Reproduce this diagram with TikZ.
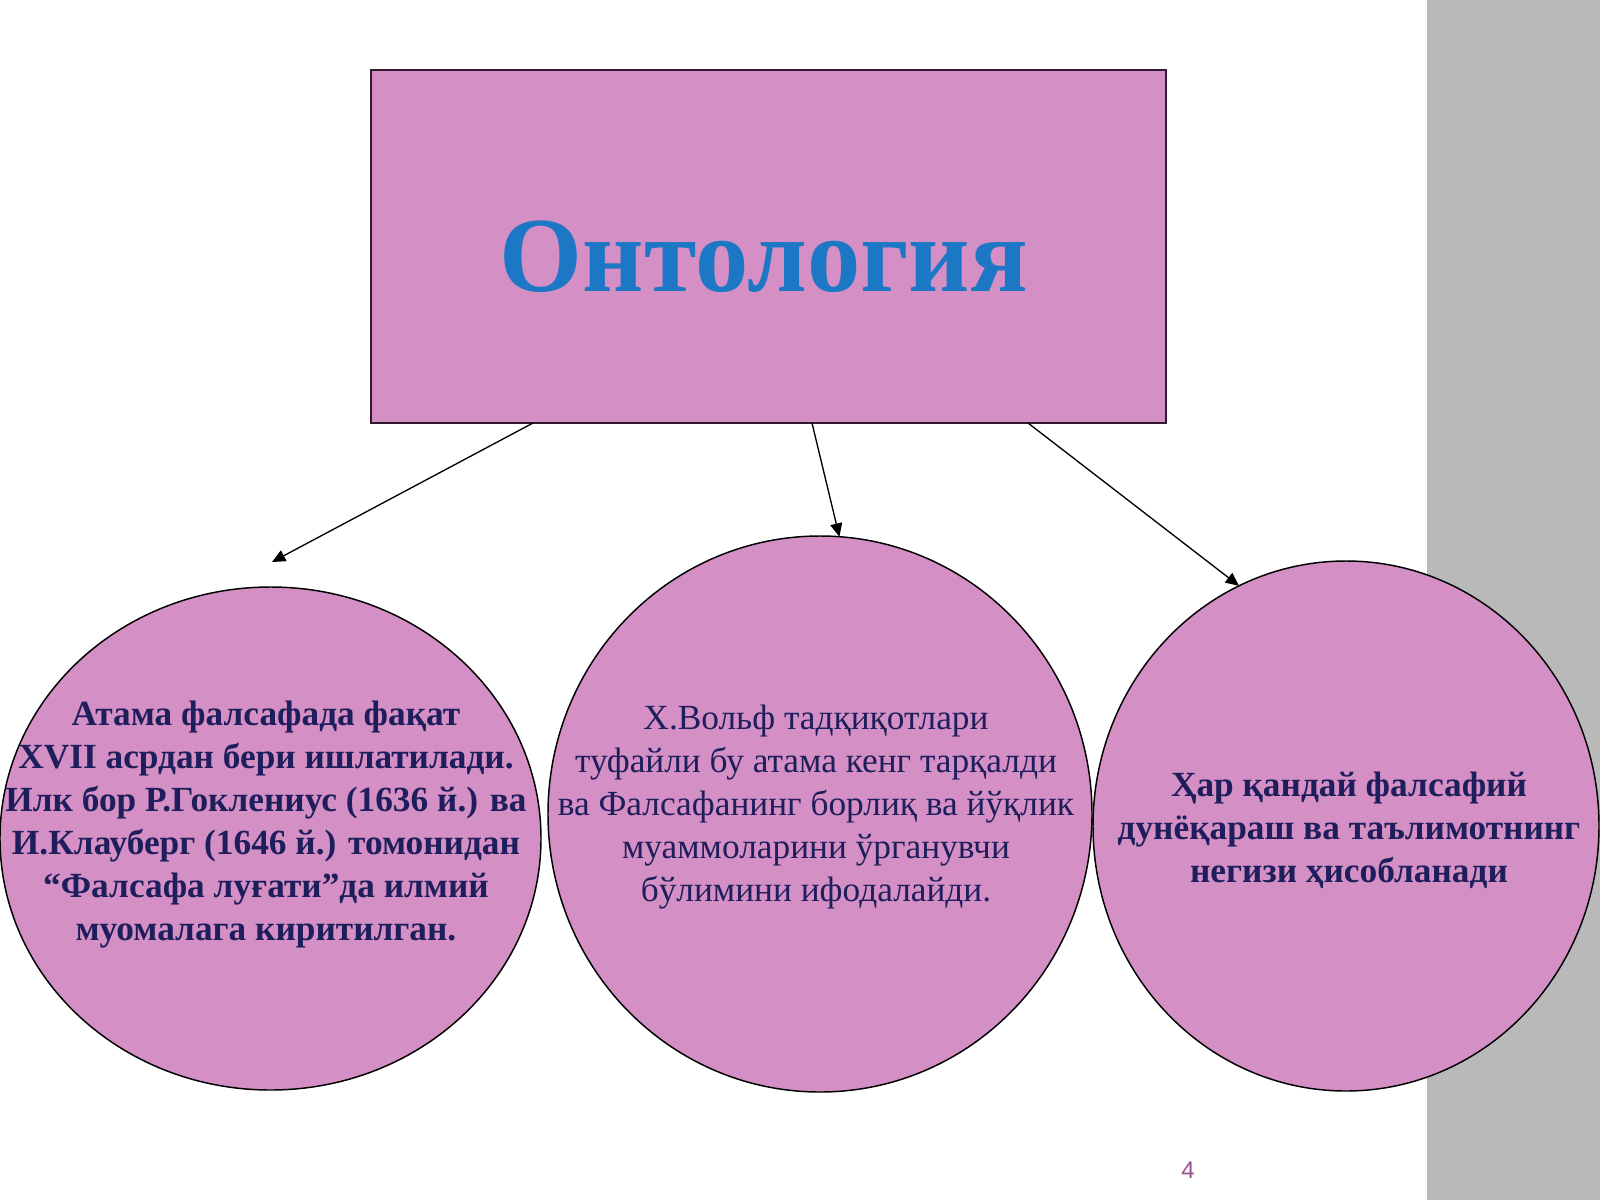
\documentclass[tikz,border=0pt]{standalone}
\usepackage{fontspec}
\setmainfont{Liberation Serif}
\newfontfamily\pagenumfont{Liberation Sans}
\usetikzlibrary{shapes.geometric,arrows.meta}
\definecolor{slidepink}{RGB}{212,143,196}
\definecolor{slidegray}{RGB}{185,185,185}
\definecolor{titleblue}{RGB}{28,120,196}
\definecolor{inknavy}{RGB}{30,30,92}
\definecolor{numpurple}{RGB}{158,79,148}
\tikzset{every picture/.style={line width=0.75pt}}
\tikzset{
  topbox/.style={draw={rgb,255:red,50;green,25;blue,50}, fill=slidepink, line width=1.1pt, inner sep=0pt, outer sep=0pt},
  bubble/.style={draw=black, fill=slidepink, ellipse, line width=1.1pt, inner sep=0pt, outer sep=0pt},
  bubbletext/.style={inner sep=0pt, align=center, text=inknavy, font=\fontsize{26.5}{32.25}\selectfont},
  arr/.style={draw=black, line width=1pt, -{Triangle[length=10pt,width=9pt]}}
}

\begin{document}
\begin{tikzpicture}[x=0.75pt,y=0.75pt,yscale=-1,xscale=1]
\useasboundingbox (0,0) rectangle (1600,1200);

%Shape: Rectangle (gray band)
\fill [slidegray] (1427,0) rectangle (1600,1200);

%Shape: Rectangle
\node (onto) [topbox, minimum width=596.25pt, minimum height=264.75pt] at (768.5,246.5) {};
% Text Node
\node (title) [anchor=base, inner sep=0pt, text=titleblue, font=\fontsize{80}{80}\selectfont\bfseries] at (764,291) {Онтология};

%Shape: Ellipse
\node (lcirc) [bubble, minimum width=405.75pt, minimum height=377.25pt] at (270.5,838.5) {};
%Shape: Ellipse
\node (mcirc) [bubble, minimum width=408pt, minimum height=417pt] at (820,814) {};
%Shape: Ellipse
\node (rcirc) [bubble, minimum width=379.5pt, minimum height=397.5pt] at (1346,826) {};

% Text Node
\node (ltext) [bubbletext, font=\fontsize{26.5}{32.25}\selectfont\bfseries] at (266,825) {Атама фалсафада фақат\\XVII асрдан бери ишлатилади.\\Илк бор Р.Гоклениус (1636 й.) ва\\И.Клауберг (1646 й.) томонидан\\“Фалсафа луғати”да илмий\\муомалага киритилган.};
% Text Node
\node (mtext) [bubbletext] at (816,807) {Х.Вольф тадқиқотлари\\туфайли бу атама кенг тарқалди\\ва Фалсафанинг борлиқ ва йўқлик\\муаммоларини ўрганувчи\\бўлимини ифодалайди.};
% Text Node
\node (rtext) [bubbletext, font=\fontsize{26.5}{32.25}\selectfont\bfseries] at (1349,830) {Ҳар қандай фалсафий\\дунёқараш ва таълимотнинг\\негизи ҳисобланади};

%Straight Lines
\coordinate (lend) at (272,562);
\draw [arr] ([xshift=121.5pt]onto.south west) -- (lend);
\draw [arr] ([xshift=330.75pt]onto.south west) -- (mcirc.86);
\draw [arr] ([xshift=492.75pt]onto.south west) -- (rcirc.114);

% Text Node
\node (pagenum) [inner sep=0pt, text=numpurple, font=\pagenumfont\fontsize{18}{18}\selectfont] at (1188,1170) {4};

\end{tikzpicture}
\end{document}
